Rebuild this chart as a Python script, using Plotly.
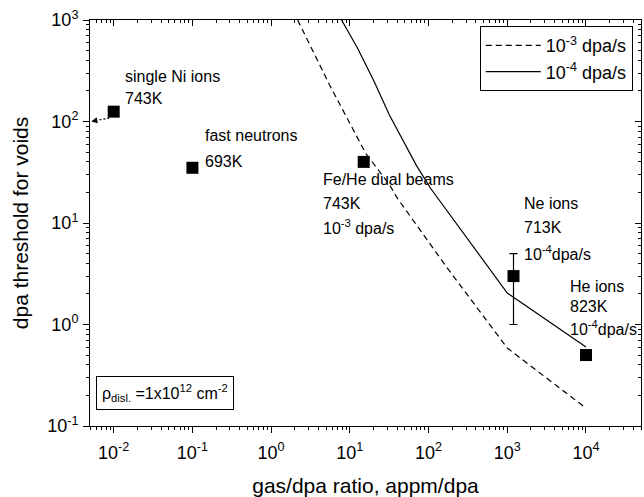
import numpy as np
import plotly.graph_objects as go

# ---------------- data ----------------
pt_names = ["single Ni ions", "fast neutrons", "Fe/He dual beams", "Ne ions", "He ions"]
pt_x = [0.01, 0.1, 15, 1200, 10000]
pt_y = [125, 35, 40, 3.0, 0.5]
pt_err_plus = [0, 0, 0, 2.0, 0]
pt_err_minus = [0, 0, 0, 2.0, 0]

# threshold curve, 1e-3 dpa/s (dashed)
c3_x = [2.17, 5.53, 15.8, 32, 40.3, 169, 1000, 10000]
c3_y = [1000, 229, 49, 23.7, 17.5, 3.69, 0.586, 0.150]
# threshold curve, 1e-4 dpa/s (solid)
c4_x = [7.85, 12.5, 20.5, 31.8, 70, 106, 1000, 10000]
c4_y = [1000, 530, 245, 116, 37, 22, 2.04, 0.60]

# arrow from single Ni ion point toward the axis
arrow_x = [0.0088, 0.0062]
arrow_y = [108, 103]
arrow_head = (0.0052, 100)

# labels: (text, x, y)  anchor = left/middle
labels = [
    ("single Ni ions", 0.0132, 280),
    ("743K", 0.0132, 167),
    ("fast neutrons", 0.1355, 73.6),
    ("693K", 0.1355, 40.8),
    ("Fe/He dual beams", 4.26, 27.1),
    ("743K", 4.26, 15.7),
    ("10<sup>-3</sup> dpa/s", 4.26, 9.14),
    ("Ne ions", 1549, 15.4),
    ("713K", 1549, 8.93),
    ("10<sup>-4</sup>dpa/s", 1549, 5.06),
    ("He ions", 5940, 2.39),
    ("823K", 5940, 1.52),
    ("10<sup>-4</sup>dpa/s", 5940, 0.925),
]

x_range = [0.005, 50000]
y_range = [0.1, 1000]
x_tickvals = [0.01, 0.1, 1, 10, 100, 1000, 10000]
x_ticktext = ["10<sup>-2</sup>", "10<sup>-1</sup>", "10<sup>0</sup>", "10<sup>1</sup>",
              "10<sup>2</sup>", "10<sup>3</sup>", "10<sup>4</sup>"]
y_tickvals = [0.1, 1, 10, 100, 1000]
y_ticktext = ["10<sup>-1</sup>", "10<sup>0</sup>", "10<sup>1</sup>", "10<sup>2</sup>", "10<sup>3</sup>"]

FONT = "Liberation Sans, Arial, Helvetica, sans-serif"


def minor_positions(lo, hi):
    out = []
    for d in range(int(np.floor(np.log10(lo))), int(np.ceil(np.log10(hi))) + 1):
        for k in range(2, 10):
            v = k * 10.0 ** d
            if lo <= v <= hi:
                out.append(v)
    return out


x_minor = minor_positions(*x_range)
y_minor = minor_positions(*y_range)

fig = go.Figure()

fig.add_trace(go.Scatter(x=c3_x, y=c3_y, mode="lines", name="10<sup>-3</sup> dpa/s",
                         xaxis="x3", yaxis="y3",
                         line=dict(color="black", width=1.2, dash="6px,4px")))
fig.add_trace(go.Scatter(x=c4_x, y=c4_y, mode="lines", name="10<sup>-4</sup> dpa/s",
                         xaxis="x4", yaxis="y4",
                         line=dict(color="black", width=1.2)))
fig.add_trace(go.Scatter(x=arrow_x, y=arrow_y, mode="lines", showlegend=False,
                         line=dict(color="black", width=1.2, dash="2px,2px")))
fig.add_trace(go.Scatter(x=pt_x, y=pt_y, mode="markers", showlegend=False,
                         xaxis="x2", yaxis="y2",
                         marker=dict(symbol="square", size=12, color="black"),
                         error_y=dict(type="data", symmetric=False, array=pt_err_plus,
                                      arrayminus=pt_err_minus, color="black",
                                      thickness=1.2, width=4)))

fig.add_annotation(x=np.log10(arrow_head[0]), y=np.log10(arrow_head[1]),
                   ax=np.log10(arrow_x[1]), ay=np.log10(arrow_y[1]),
                   xref="x", yref="y", axref="x", ayref="y", text="",
                   showarrow=True, arrowhead=2, arrowsize=1, arrowwidth=1.2,
                   arrowcolor="black")

for t, lx, ly in labels:
    fig.add_annotation(x=np.log10(lx), y=np.log10(ly), xref="x", yref="y", text=t,
                       showarrow=False, xanchor="left", yanchor="middle",
                       font=dict(size=16, color="black", family=FONT))

fig.add_annotation(x=0.137, y=0.081, xref="paper", yref="paper",
                   text="ρ<sub>disl.</sub> =1x10<sup>12</sup> cm<sup>-2</sup>",
                   showarrow=False, xanchor="center", yanchor="middle",
                   bordercolor="black", borderwidth=1, borderpad=5, bgcolor="white",
                   font=dict(size=16, color="black", family=FONT))

log_x = [np.log10(v) for v in x_range]
log_y = [np.log10(v) for v in y_range]


def tick_axis(rng, vals, side, inout, length, line, overlay):
    return dict(type="log", range=rng, showgrid=False, zeroline=False,
                showline=line, linecolor="black", automargin=False,
                ticks=inout, ticklen=length, tickcolor="black", tickwidth=1.2,
                tickmode="array", tickvals=vals, showticklabels=False, side=side,
                overlaying=overlay)


fig.update_layout(
    width=644, height=497,
    margin=dict(l=90, r=3, t=20, b=71),
    plot_bgcolor="white",
    font=dict(family=FONT, color="black", size=18),
    xaxis=dict(type="log", range=log_x, showgrid=False, zeroline=False,
               showline=True, linecolor="black", automargin=False,
               ticks="outside", ticklen=6, tickcolor="black", tickwidth=1.2,
               tickmode="array", tickvals=x_tickvals, ticktext=x_ticktext,
               ticklabelstandoff=4, tickfont=dict(size=18),
               title=dict(text="gas/dpa ratio, appm/dpa", font=dict(size=21), standoff=16)),
    yaxis=dict(type="log", range=log_y, showgrid=False, zeroline=False,
               showline=True, linecolor="black", automargin=False,
               ticks="outside", ticklen=6, tickcolor="black", tickwidth=1.2,
               tickmode="array", tickvals=y_tickvals, ticktext=y_ticktext,
               ticklabelstandoff=1, tickfont=dict(size=18),
               title=dict(text="dpa threshold for voids", font=dict(size=21), standoff=12)),
    xaxis2=tick_axis(log_x, x_tickvals, "top", "inside", 6, True, "x"),
    yaxis2=tick_axis(log_y, y_tickvals, "right", "inside", 6, True, "y"),
    xaxis3=tick_axis(log_x, x_minor, "bottom", "outside", 3, False, "x"),
    yaxis3=tick_axis(log_y, y_minor, "left", "outside", 3, False, "y"),
    xaxis4=tick_axis(log_x, x_minor, "top", "inside", 3, False, "x"),
    yaxis4=tick_axis(log_y, y_minor, "right", "inside", 3, False, "y"),
    legend=dict(x=0.985, y=0.985, xanchor="right", yanchor="top",
                bgcolor="white", bordercolor="black", borderwidth=1,
                font=dict(size=18), itemwidth=55, tracegroupgap=0),
    showlegend=True,
)

fig.write_html("out.html")
